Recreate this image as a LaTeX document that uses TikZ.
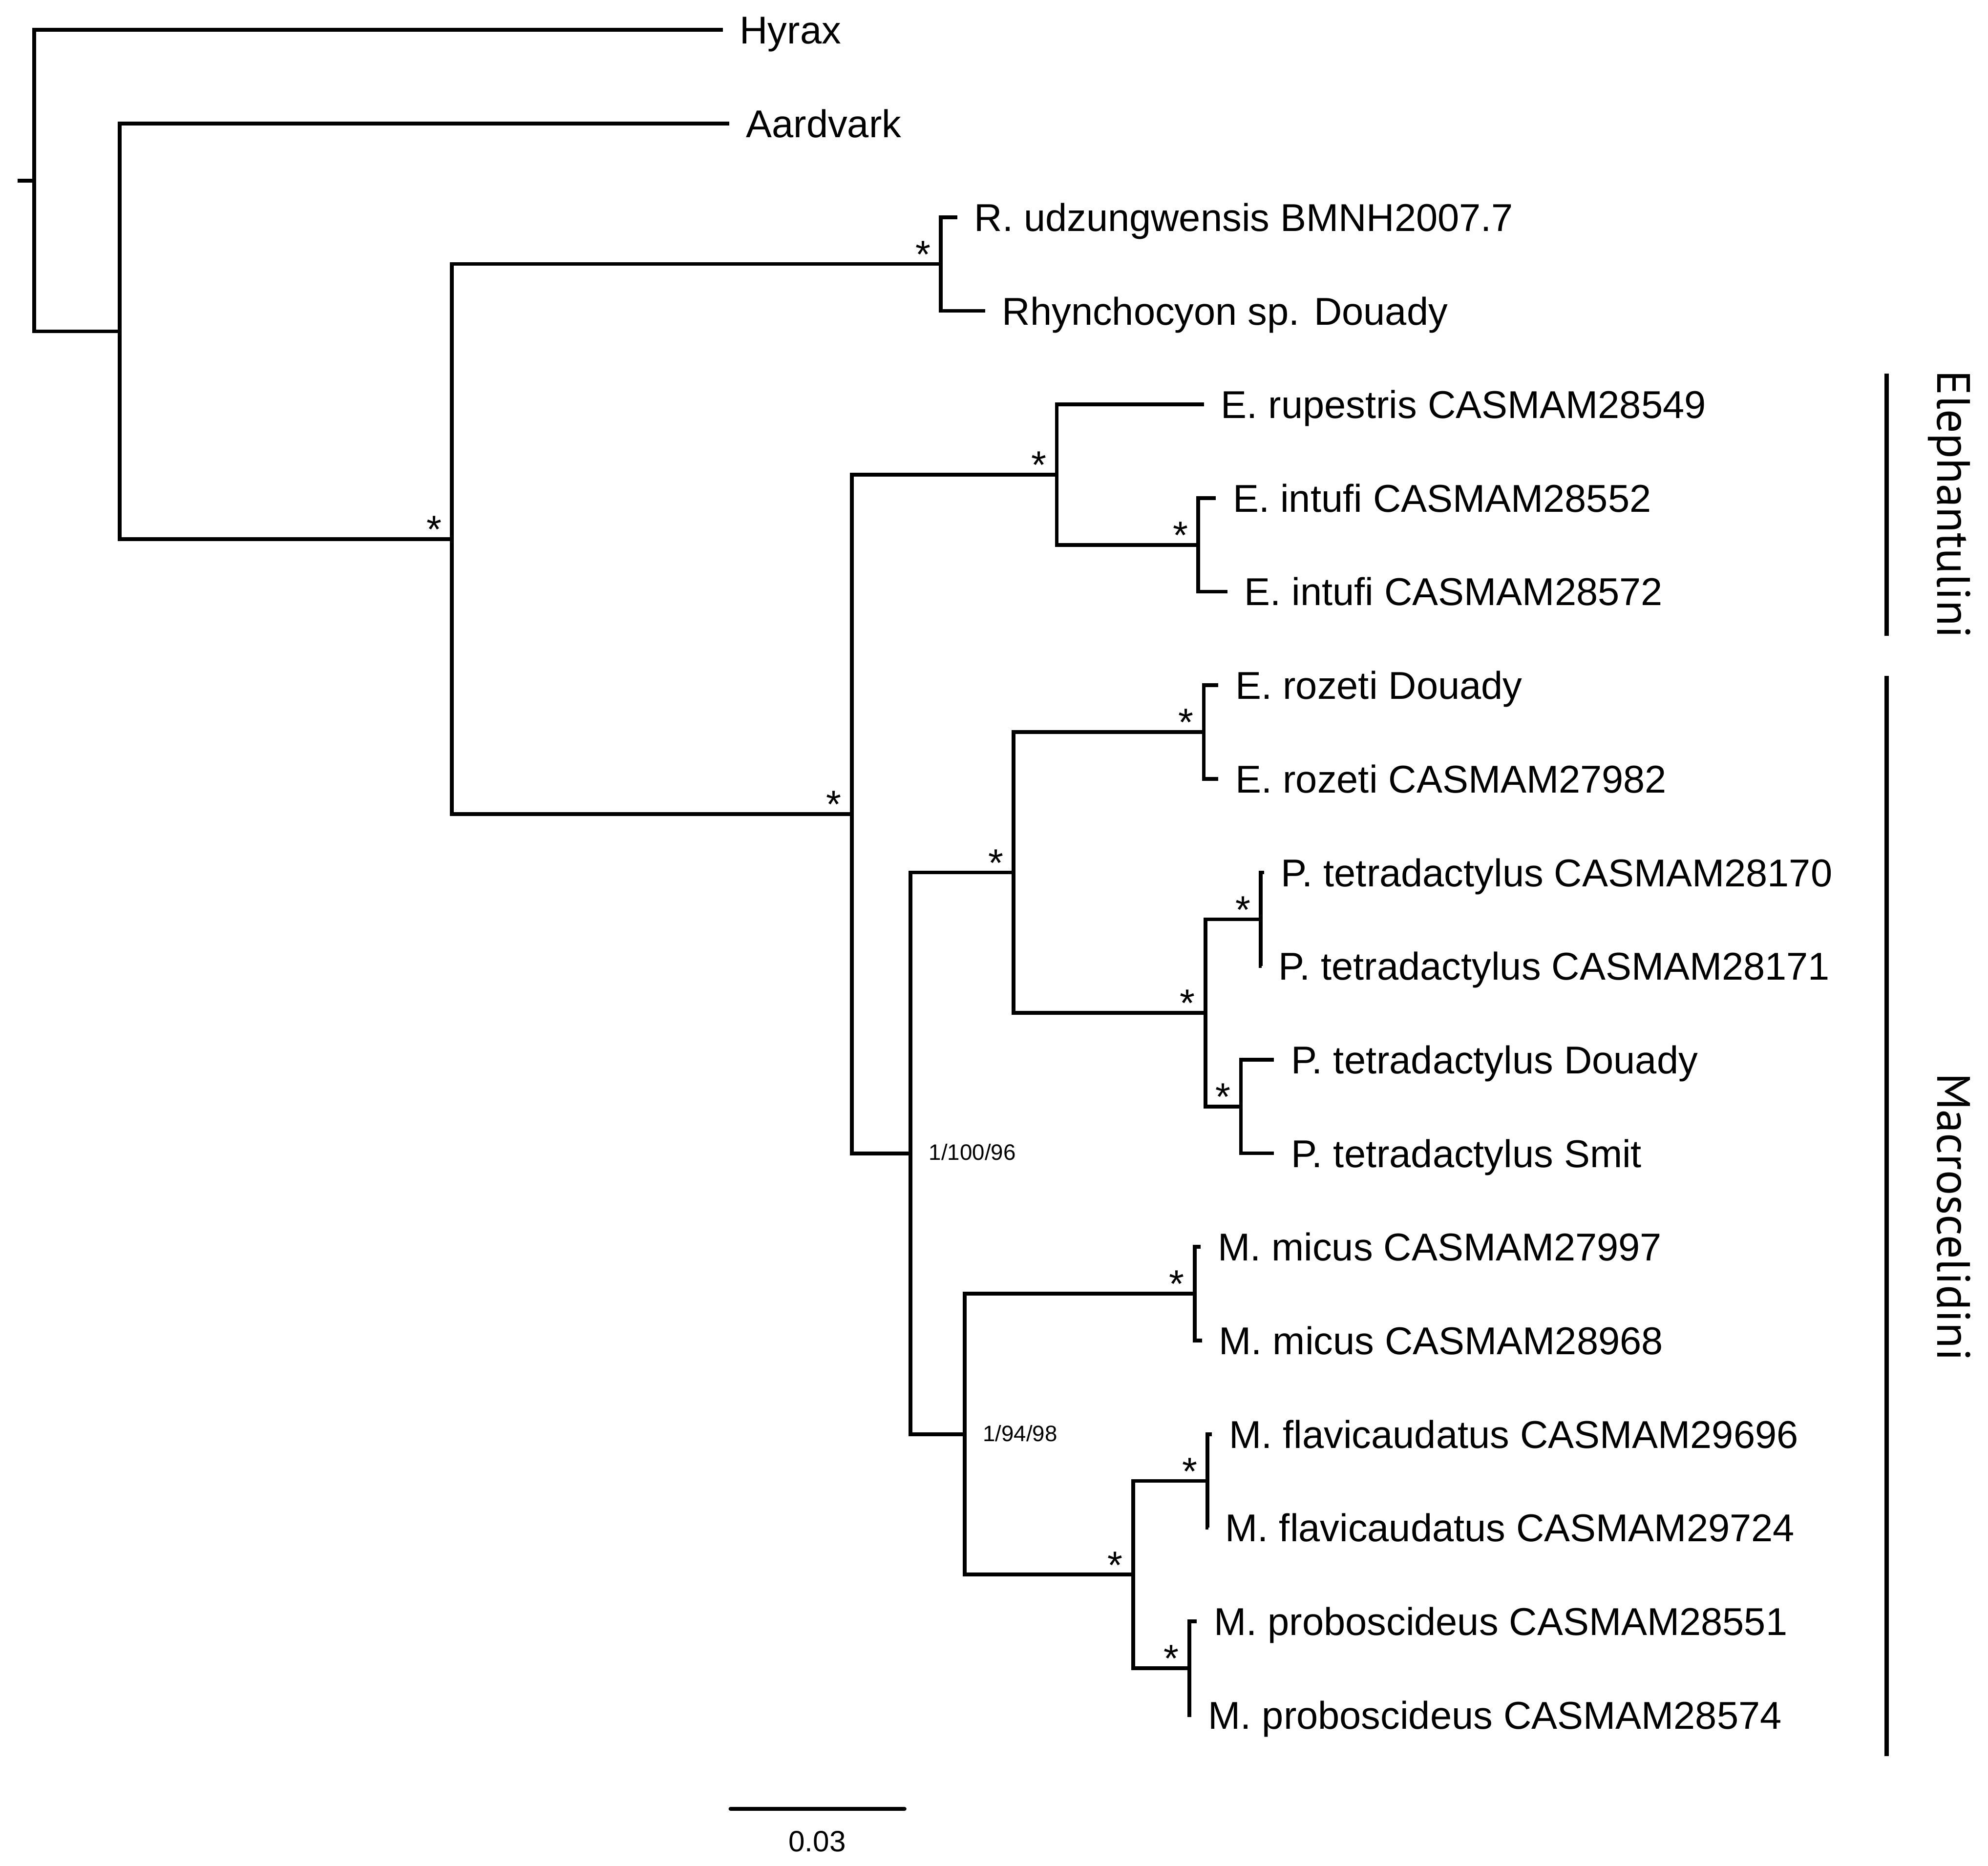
\documentclass[tikz,border=0pt]{standalone}
\usepackage{fontspec}
\setmainfont{Liberation Sans}
\newfontfamily\cladefont{PT Sans}
\usetikzlibrary{calc}

\begin{document}
\begin{tikzpicture}[x=0.01cm, y=-0.01cm, line width=0.85pt,
  taxon/.style={anchor=base west, inner sep=0pt, xshift=0.12cm, yshift=-0.11cm, font=\fontsize{8.7}{10}\selectfont},
  supp/.style={inner sep=0pt, xshift=-0.14cm, yshift=0.075cm, font=\fontsize{8.7}{10}\selectfont},
  post/.style={anchor=base west, inner sep=0pt, xshift=0.13cm, yshift=-0.055cm, font=\fontsize{5}{6}\selectfont},
  clade/.style={rotate=-90, anchor=base, inner sep=0pt, font=\cladefont\fontsize{10.5}{12}\selectfont}]

\useasboundingbox (0,0) rectangle (1568,1472);

% Branch ends of the taxa
\coordinate (hyrax) at (570,23.6);
\coordinate (aard)  at (575,97.5);
\coordinate (rud)   at (755,171.3);
\coordinate (rsp)   at (777,245.2);
\coordinate (erup)  at (949.5,319);
\coordinate (eintA) at (959,392.9);
\coordinate (eintB) at (968,466.7);
\coordinate (erozA) at (961,540.6);
\coordinate (erozB) at (961,614.4);
\coordinate (ptetA) at (997,688.3);
\coordinate (ptetB) at (995,762.1);
\coordinate (ptetC) at (1004.8,836);
\coordinate (ptetD) at (1004.8,909.8);
\coordinate (mmicA) at (947,983.7);
\coordinate (mmicB) at (948,1057.5);
\coordinate (mflaA) at (956,1131.4);
\coordinate (mflaB) at (953,1205.2);
\coordinate (mproA) at (944,1279.1);
\coordinate (mproB) at (939.5,1352.9);

% Internal nodes
\coordinate (stub) at (13.8,142.5);
\coordinate (nR)  at (27,142.5);
\coordinate (nA)  at (94.3,261.35);
\coordinate (nB)  at (356.3,425.2);
\coordinate (nRh) at (742,208.25);
\coordinate (nC)  at (671.8,642.1);
\coordinate (nEl) at (833.5,374.4);
\coordinate (nIn) at (945,429.8);
\coordinate (nD)  at (718.2,909.85);
\coordinate (nE)  at (799.4,688.3);
\coordinate (nRo) at (949.5,577.5);
\coordinate (nF)  at (950.7,799.05);
\coordinate (nG)  at (994.4,725.2);
\coordinate (nH)  at (978.7,872.9);
\coordinate (nI)  at (760.8,1131.4);
\coordinate (nMi) at (942.2,1020.6);
\coordinate (nJ)  at (893.7,1242.15);
\coordinate (nFl) at (952.5,1168.3);
\coordinate (nPr) at (938,1316);

% Branches
\draw (stub) -- (nR);
\foreach \p/\c in {nR/hyrax, nR/nA, nA/aard, nA/nB, nB/nRh, nB/nC,
    nRh/rud, nRh/rsp, nC/nEl, nC/nD, nEl/erup, nEl/nIn, nIn/eintA, nIn/eintB,
    nD/nE, nD/nI, nE/nRo, nE/nF, nRo/erozA, nRo/erozB, nF/nG, nF/nH,
    nG/ptetA, nG/ptetB, nH/ptetC, nH/ptetD, nI/nMi, nI/nJ, nMi/mmicA, nMi/mmicB,
    nJ/nFl, nJ/nPr, nFl/mflaA, nFl/mflaB, nPr/mproA, nPr/mproB}
    \draw (\p) |- (\c);

% Taxon names
\node[taxon] (lhyrax) at (hyrax) {Hyrax};
\node[taxon] (laard)  at (aard)  {Aardvark};
\node[taxon] (lrud)   at (rud)   {R. udzungwensis BMNH2007.7};
\node[taxon] (lrsp)   at (rsp)   {Rhynchocyon sp. Douady};
\node[taxon] (lerup)  at (erup)  {E. rupestris CASMAM28549};
\node[taxon] (leintA) at (eintA) {E. intufi CASMAM28552};
\node[taxon] (leintB) at (eintB) {E. intufi CASMAM28572};
\node[taxon] (lerozA) at (erozA) {E. rozeti Douady};
\node[taxon] (lerozB) at (erozB) {E. rozeti CASMAM27982};
\node[taxon] (lptetA) at (ptetA) {P. tetradactylus CASMAM28170};
\node[taxon] (lptetB) at (ptetB) {P. tetradactylus CASMAM28171};
\node[taxon] (lptetC) at (ptetC) {P. tetradactylus Douady};
\node[taxon] (lptetD) at (ptetD) {P. tetradactylus Smit};
\node[taxon] (lmmicA) at (mmicA) {M. micus CASMAM27997};
\node[taxon] (lmmicB) at (mmicB) {M. micus CASMAM28968};
\node[taxon] (lmflaA) at (mflaA) {M. flavicaudatus CASMAM29696};
\node[taxon] (lmflaB) at (mflaB) {M. flavicaudatus CASMAM29724};
\node[taxon] (lmproA) at (mproA) {M. proboscideus CASMAM28551};
\node[taxon] (lmproB) at (mproB) {M. proboscideus CASMAM28574};

% Support values
\foreach \n in {nB, nRh, nC, nEl, nIn, nE, nRo, nF, nG, nH, nMi, nJ, nFl, nPr}
    \node[supp] (s\n) at (\n) {*};
\node[post] (pD) at (nD) {1/100/96};
\node[post] (pI) at (nI) {1/94/98};

% Tribes
\coordinate (elTop) at (1488,294.7);
\coordinate (elBot) at (1488,501.5);
\coordinate (maTop) at (1488,533);
\coordinate (maBot) at (1488,1385.5);
\draw[line width=1pt] (elTop) -- (elBot);
\draw[line width=1pt] (maTop) -- (maBot);
\node[clade] (lel) at (1528,398) {Elephantulini};
\node[clade] (lma) at (1528,960) {Macroscelidini};

% Scale bar
\coordinate (sbL) at (576.2,1427);
\coordinate (sbR) at (713.4,1427);
\draw[line width=0.9pt, line cap=round] (sbL) -- (sbR);
\node[anchor=base, inner sep=0pt, font=\fontsize{6.6}{8}\selectfont] (lsb) at (644.5,1460.8) {0.03};

\end{tikzpicture}
\end{document}
